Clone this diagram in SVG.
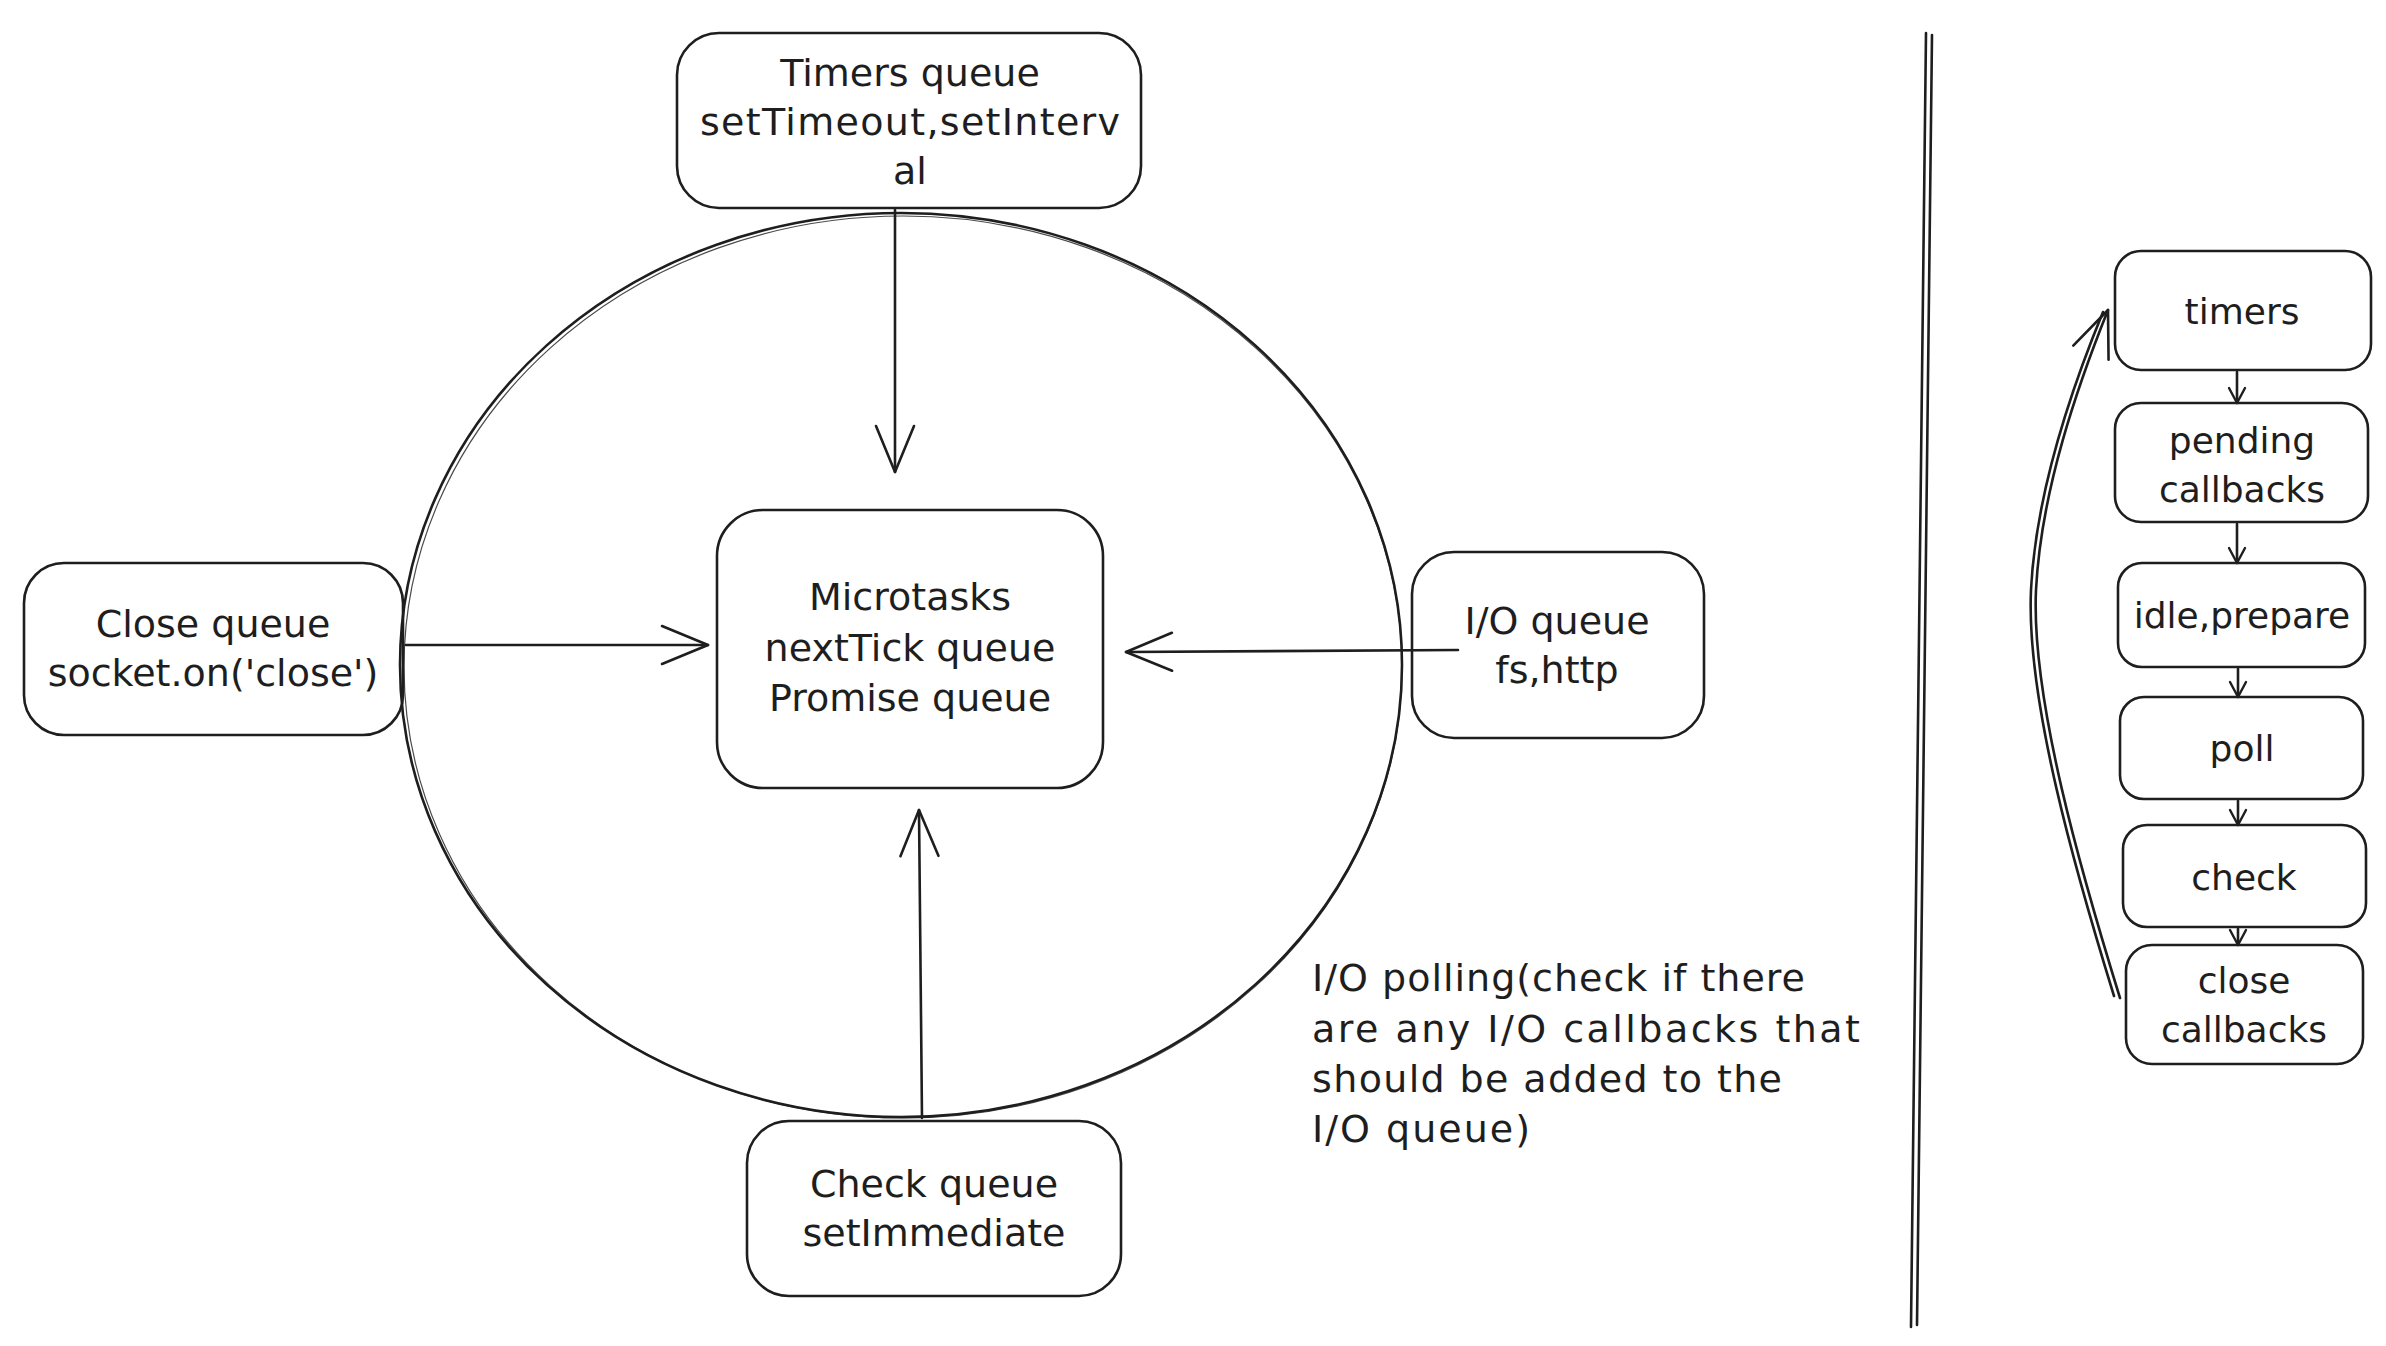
<svg xmlns="http://www.w3.org/2000/svg" width="2386" height="1346" viewBox="0 0 2386 1346">
<style>
.box{fill:none;stroke:#1e1e1e;stroke-width:2.6}
.box2{fill:none;stroke:#1e1e1e;stroke-width:1.2;opacity:.8}
.t{font-family:"DejaVu Sans","Liberation Sans",sans-serif;font-size:38px;fill:#1e1e1e;text-anchor:middle}
.tl{font-family:"DejaVu Sans","Liberation Sans",sans-serif;font-size:38px;fill:#1e1e1e;text-anchor:start}
.tr{font-family:"DejaVu Sans","Liberation Sans",sans-serif;font-size:36px;fill:#1e1e1e;text-anchor:middle}
.ln{fill:none;stroke:#1e1e1e;stroke-width:2.6;stroke-linecap:round}
.big{marker-end:url(#ah)}
.sm{marker-end:url(#ahs)}
</style>
<defs>
<marker id="ah" markerUnits="userSpaceOnUse" viewBox="-50 -25 54 50" refX="0" refY="0" markerWidth="54" markerHeight="50" orient="auto" overflow="visible">
<path d="M-46,-19 L0,0 L-46,19" fill="none" stroke="#1e1e1e" stroke-width="2.6" stroke-linecap="round" stroke-linejoin="round"/>
</marker>
<marker id="ahs" markerUnits="userSpaceOnUse" viewBox="-20 -12 24 24" refX="0" refY="0" markerWidth="24" markerHeight="24" orient="auto" overflow="visible">
<path d="M-15,-8 L0,0 L-15,8" fill="none" stroke="#1e1e1e" stroke-width="2.4" stroke-linecap="round" stroke-linejoin="round"/>
</marker>
</defs>
<rect width="2386" height="1346" fill="#ffffff"/>

<g id="loop">
<ellipse class="box" cx="901" cy="665" rx="501" ry="452"/>
<ellipse class="box2" cx="903" cy="667" rx="499" ry="451"/>
</g>

<g id="divider">
<path class="ln" d="M1926,33 L1911,1327"/>
<path class="ln" d="M1932,35 L1917,1325" stroke-width="1.5"/>
</g>

<g id="connectors">
<path class="ln big" d="M895,210 L895,472"/>
<path class="ln big" d="M406,645 L708,645"/>
<path class="ln big" d="M1458,650 L1126,652"/>
<path class="ln big" d="M922,1118 L919,810"/>
<path class="ln sm" d="M2237,372 L2237,403"/>
<path class="ln sm" d="M2237,524 L2237,563"/>
<path class="ln sm" d="M2238,669 L2238,697"/>
<path class="ln sm" d="M2238,801 L2238,825"/>
<path class="ln sm" d="M2238,929 L2238,945"/>
<path class="ln big" d="M2120,998 C2082,875 2031,700 2036,590 C2041,490 2078,385 2108,310"/>
<path class="ln" d="M2114,996 C2076,873 2026,700 2031,590 C2036,490 2073,385 2103,312" stroke-width="1.3"/>
</g>

<g id="timers-queue">
<rect class="box" x="677" y="33" width="464" height="175" rx="42"/>
<text class="t" x="910" y="86">Timers queue</text>
<text class="t" x="910" y="135" textLength="420" lengthAdjust="spacing">setTimeout,setInterv</text>
<text class="t" x="910" y="184">al</text>
</g>

<g id="microtasks">
<rect class="box" x="717" y="510" width="386" height="278" rx="46"/>
<text class="t" x="910" y="610">Microtasks</text>
<text class="t" x="910" y="661">nextTick queue</text>
<text class="t" x="910" y="711">Promise queue</text>
</g>

<g id="close-queue">
<rect class="box" x="24" y="563" width="379" height="172" rx="40"/>
<text class="t" x="213" y="637">Close queue</text>
<text class="t" x="213" y="686">socket.on('close')</text>
</g>

<g id="io-queue">
<rect class="box" x="1412" y="552" width="292" height="186" rx="42"/>
<text class="t" x="1557" y="634">I/O queue</text>
<text class="t" x="1557" y="683">fs,http</text>
</g>

<g id="check-queue">
<rect class="box" x="747" y="1121" width="374" height="175" rx="42"/>
<text class="t" x="934" y="1197">Check queue</text>
<text class="t" x="934" y="1246">setImmediate</text>
</g>

<g id="io-polling-note">
<text class="tl" x="1312" y="991" textLength="493" lengthAdjust="spacing">I/O polling(check if there</text>
<text class="tl" x="1312" y="1042" textLength="548" lengthAdjust="spacing">are any I/O callbacks that</text>
<text class="tl" x="1312" y="1092" textLength="470" lengthAdjust="spacing">should be added to the</text>
<text class="tl" x="1312" y="1142" textLength="218" lengthAdjust="spacing">I/O queue)</text>
</g>

<g id="phase-timers">
<rect class="box" x="2115" y="251" width="256" height="119" rx="26"/>
<text class="tr" x="2242" y="324">timers</text>
</g>
<g id="phase-pending">
<rect class="box" x="2115" y="403" width="253" height="119" rx="26"/>
<text class="tr" x="2242" y="453">pending</text>
<text class="tr" x="2242" y="502">callbacks</text>
</g>
<g id="phase-idle">
<rect class="box" x="2118" y="563" width="247" height="104" rx="24"/>
<text class="tr" x="2242" y="628">idle,prepare</text>
</g>
<g id="phase-poll">
<rect class="box" x="2120" y="697" width="243" height="102" rx="24"/>
<text class="tr" x="2242" y="761">poll</text>
</g>
<g id="phase-check">
<rect class="box" x="2123" y="825" width="243" height="102" rx="24"/>
<text class="tr" x="2244" y="890">check</text>
</g>
<g id="phase-close">
<rect class="box" x="2126" y="945" width="237" height="119" rx="26"/>
<text class="tr" x="2244" y="993">close</text>
<text class="tr" x="2244" y="1042">callbacks</text>
</g>
</svg>
